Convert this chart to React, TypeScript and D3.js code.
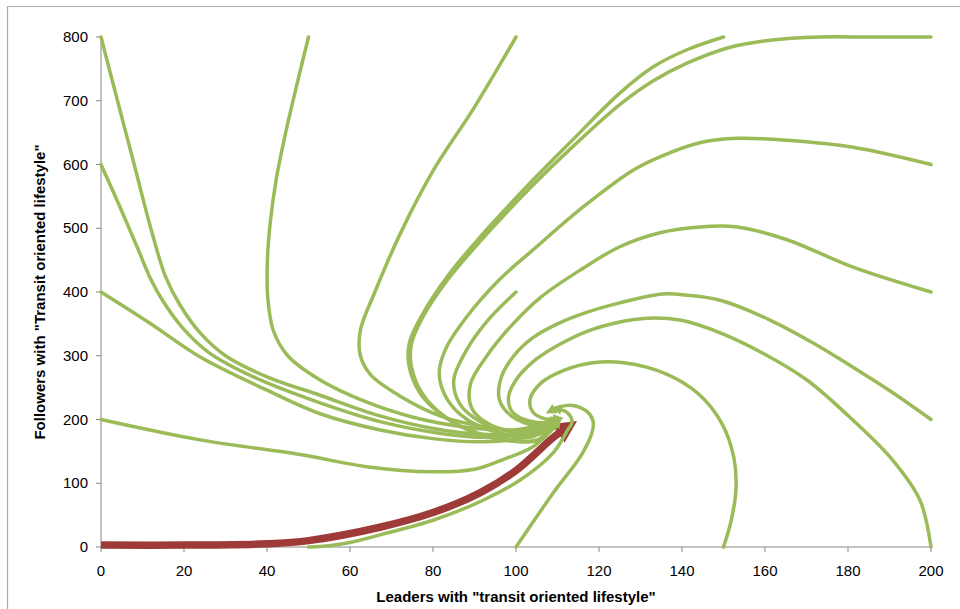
import React from "react";
import * as d3 from "d3";

type Pt = [number, number];

// tick labels
const xTicks = [0, 20, 40, 60, 80, 100, 120, 140, 160, 180, 200];
const yTicks = [0, 100, 200, 300, 400, 500, 600, 700, 800];

// trajectories, named after their start (leaders, followers)
const run0_0: Pt[] = [
  [0, 3], [20, 3], [40, 5], [50, 10], [67.2, 31], [80, 54], [91.3, 85],
  [100, 120], [109, 172], [112, 186],
];
const run50_0: Pt[] = [
  [50, 0], [55, 2], [60, 7], [67.2, 19], [80, 42], [91.3, 71], [101, 105],
  [109, 148], [112.5, 184], [113.5, 196], [112.5, 210], [110, 217],
];
const run100_0: Pt[] = [
  [100, 0], [109, 85], [116, 147], [118.5, 184], [118.5, 199], [117, 213],
  [113.7, 222], [110.6, 220], [108.5, 214],
];
const run150_0: Pt[] = [
  [150, 0], [151.8, 40], [153, 90], [152.5, 140], [149.5, 195], [144, 240],
  [136, 272], [126, 289], [118.5, 289], [111.5, 277], [106, 257],
  [103.4, 232], [104, 212], [107, 201], [110, 201],
];
const run200_0: Pt[] = [
  [200, 0], [197.3, 74], [190.8, 136], [181.2, 199], [170.1, 262], [159.5, 304],
  [149.2, 336], [139.5, 356], [131.6, 359], [125, 353], [117, 338],
  [110, 316], [104, 290], [100, 262], [98.2, 235], [99, 213], [102, 200],
  [106.5, 195], [109.5, 199],
];
const run200_200: Pt[] = [
  [200, 200], [190.8, 242], [181.2, 282], [171.6, 320], [161.2, 356],
  [149.2, 387], [141.2, 395], [135.4, 397], [125, 383], [117, 368],
  [110, 350], [104, 328], [99.5, 300], [96.5, 267], [96, 231], [99, 205],
  [105, 190], [109.5, 196],
];
const run200_400: Pt[] = [
  [200, 400], [181.2, 439], [165.3, 482], [153.3, 502], [144.3, 502],
  [134.7, 493], [125, 471], [116.1, 437], [106, 392], [99, 348], [93, 300],
  [89, 255], [89.4, 217], [93.7, 192], [99.8, 180], [105.8, 177], [109.5, 194],
];
const run200_600: Pt[] = [
  [200, 600], [181.2, 627], [165.3, 638], [153.3, 641], [144.3, 634],
  [134.7, 612], [128.2, 591], [116.1, 533], [104.1, 466], [96.1, 420],
  [88, 360], [83, 310], [81.5, 272], [83.4, 232], [88.2, 200], [95.4, 180],
  [103.4, 172], [109, 194],
];
const run200_800: Pt[] = [
  [200, 800], [185, 800], [173.3, 800], [161.2, 795], [151.6, 784],
  [141.2, 759], [133, 731], [125, 694], [114, 630], [103.4, 563], [91.3, 479],
  [83.4, 418], [77.5, 360], [74.8, 318], [74.8, 283], [77.4, 241], [83.2, 203],
  [91, 178], [99, 167], [105.5, 169], [109, 192],
];
const run150_800: Pt[] = [
  [150, 800], [141.2, 780], [133, 753], [125, 712], [114, 641], [103.4, 571],
  [91.3, 486], [83.4, 424], [77.2, 362], [74.3, 320], [74.2, 285], [76.8, 242],
  [82.8, 204], [90.8, 178], [99.3, 166], [105.8, 168], [109, 193],
];
const run100_800: Pt[] = [
  [100, 800], [90, 690], [80, 590], [72, 490], [66, 400], [62.5, 340],
  [62.5, 300], [65, 270], [72, 237], [82, 205], [94, 187], [103, 182],
  [109, 196],
];
const run50_800: Pt[] = [
  [50, 800], [47, 720], [44.5, 650], [42.3, 580], [40.8, 510], [40.1, 450],
  [40.2, 390], [41.5, 340], [45, 300], [52.8, 262], [63, 230], [75, 204],
  [88, 188], [100, 184], [109, 197],
];
const run0_800: Pt[] = [
  [0, 800], [3.9, 702], [8, 600], [12, 500], [15.5, 425], [19, 380], [24, 335],
  [30, 300], [40, 267], [52.8, 238], [67, 206], [80, 186], [92, 177],
  [102, 180], [109, 196],
];
const run0_600: Pt[] = [
  [0, 600], [4.6, 533], [9, 466], [12, 420], [15, 385], [19.5, 345], [26, 305],
  [37, 266], [52.8, 226], [67, 197], [80, 180], [92, 172], [102, 177],
  [109, 195],
];
const run0_400: Pt[] = [
  [0, 400], [11.8, 351], [23.9, 298], [40, 246], [52.8, 209], [67, 184],
  [80, 170], [92, 165], [102, 172], [109, 193],
];
const run0_200: Pt[] = [
  [0, 200], [23.9, 168], [48, 145], [64, 126], [80, 118], [90, 122], [96, 135],
  [104, 157], [108, 179], [110, 195],
];
const run100_400: Pt[] = [
  [100, 400], [93, 354], [88, 308], [85, 262], [86.5, 224], [91.3, 197],
  [98.6, 181], [104.6, 177], [109.5, 195],
];

const greenRuns = [
  run50_0, run100_0, run150_0, run200_0, run200_200, run200_400, run200_600,
  run200_800, run150_800, run100_800, run50_800, run0_800, run0_600, run0_400,
  run0_200, run100_400,
];

const green = "#9BBB59";
const red = "#9E3B38";
const axisGray = "#868686";
const font = "'Liberation Sans', Arial, sans-serif";

export default function App() {
  const x = d3.scaleLinear().domain([0, 200]).range([101, 931]);
  const y = d3.scaleLinear().domain([0, 800]).range([547, 37]);

  const line = d3
    .line<Pt>()
    .x((d) => x(d[0]))
    .y((d) => y(d[1]))
    .curve(d3.curveCatmullRom.alpha(0.5));

  return (
    <svg
      width={960}
      height={609}
      style={{ position: "absolute", left: 0, top: 0, background: "#fff" }}
    >
      <defs>
        <marker
          id="arrowRed"
          viewBox="0 0 10 10"
          refX="4"
          refY="5"
          markerWidth="3"
          markerHeight="3"
          orient="auto"
        >
          <path d="M0,0 L10,5 L0,10 z" fill={red} />
        </marker>
        <marker
          id="arrowGreen"
          viewBox="0 0 10 10"
          refX="4"
          refY="5"
          markerWidth="3"
          markerHeight="3"
          orient="auto"
        >
          <path d="M0,0 L10,5 L0,10 z" fill={green} />
        </marker>
      </defs>

      {/* chart area border, only left and top fall inside the picture */}
      <path d="M7.5,609 V6.5 H960" fill="none" stroke="#ABABAB" strokeWidth={1.2} />

      {/* axes */}
      <line x1={x(0)} x2={x(200)} y1={y(0)} y2={y(0)} stroke={axisGray} />
      <line x1={x(0)} x2={x(0)} y1={y(0)} y2={y(800)} stroke={axisGray} />
      {xTicks.map((t) => (
        <g key={"x" + t}>
          <line x1={x(t)} x2={x(t)} y1={y(0)} y2={y(0) + 5} stroke={axisGray} />
          <text
            x={x(t)}
            y={576}
            textAnchor="middle"
            fontFamily={font}
            fontSize={15}
            fill="#000"
          >
            {t}
          </text>
        </g>
      ))}
      {yTicks.map((t) => (
        <g key={"y" + t}>
          <line x1={x(0) - 5} x2={x(0)} y1={y(t)} y2={y(t)} stroke={axisGray} />
          <text
            x={88}
            y={y(t) + 5}
            textAnchor="end"
            fontFamily={font}
            fontSize={15}
            fill="#000"
          >
            {t}
          </text>
        </g>
      ))}

      {/* trajectories */}
      <path
        d={line(run0_0) ?? ""}
        fill="none"
        stroke={red}
        strokeWidth={7.5}
        markerEnd="url(#arrowRed)"
      />
      {greenRuns.map((r, i) => (
        <path
          key={i}
          d={line(r) ?? ""}
          fill="none"
          stroke={green}
          strokeWidth={3.5}
          strokeLinecap="round"
          markerEnd="url(#arrowGreen)"
        />
      ))}

      {/* axis titles */}
      <text
        x={516}
        y={602}
        textAnchor="middle"
        fontFamily={font}
        fontSize={15}
        fontWeight="bold"
        fill="#000"
      >
        Leaders with "transit oriented lifestyle"
      </text>
      <text
        transform="translate(45,292) rotate(-90)"
        textAnchor="middle"
        fontFamily={font}
        fontSize={15}
        fontWeight="bold"
        fill="#000"
      >
        Followers with "Transit oriented lifestyle"
      </text>
    </svg>
  );
}
